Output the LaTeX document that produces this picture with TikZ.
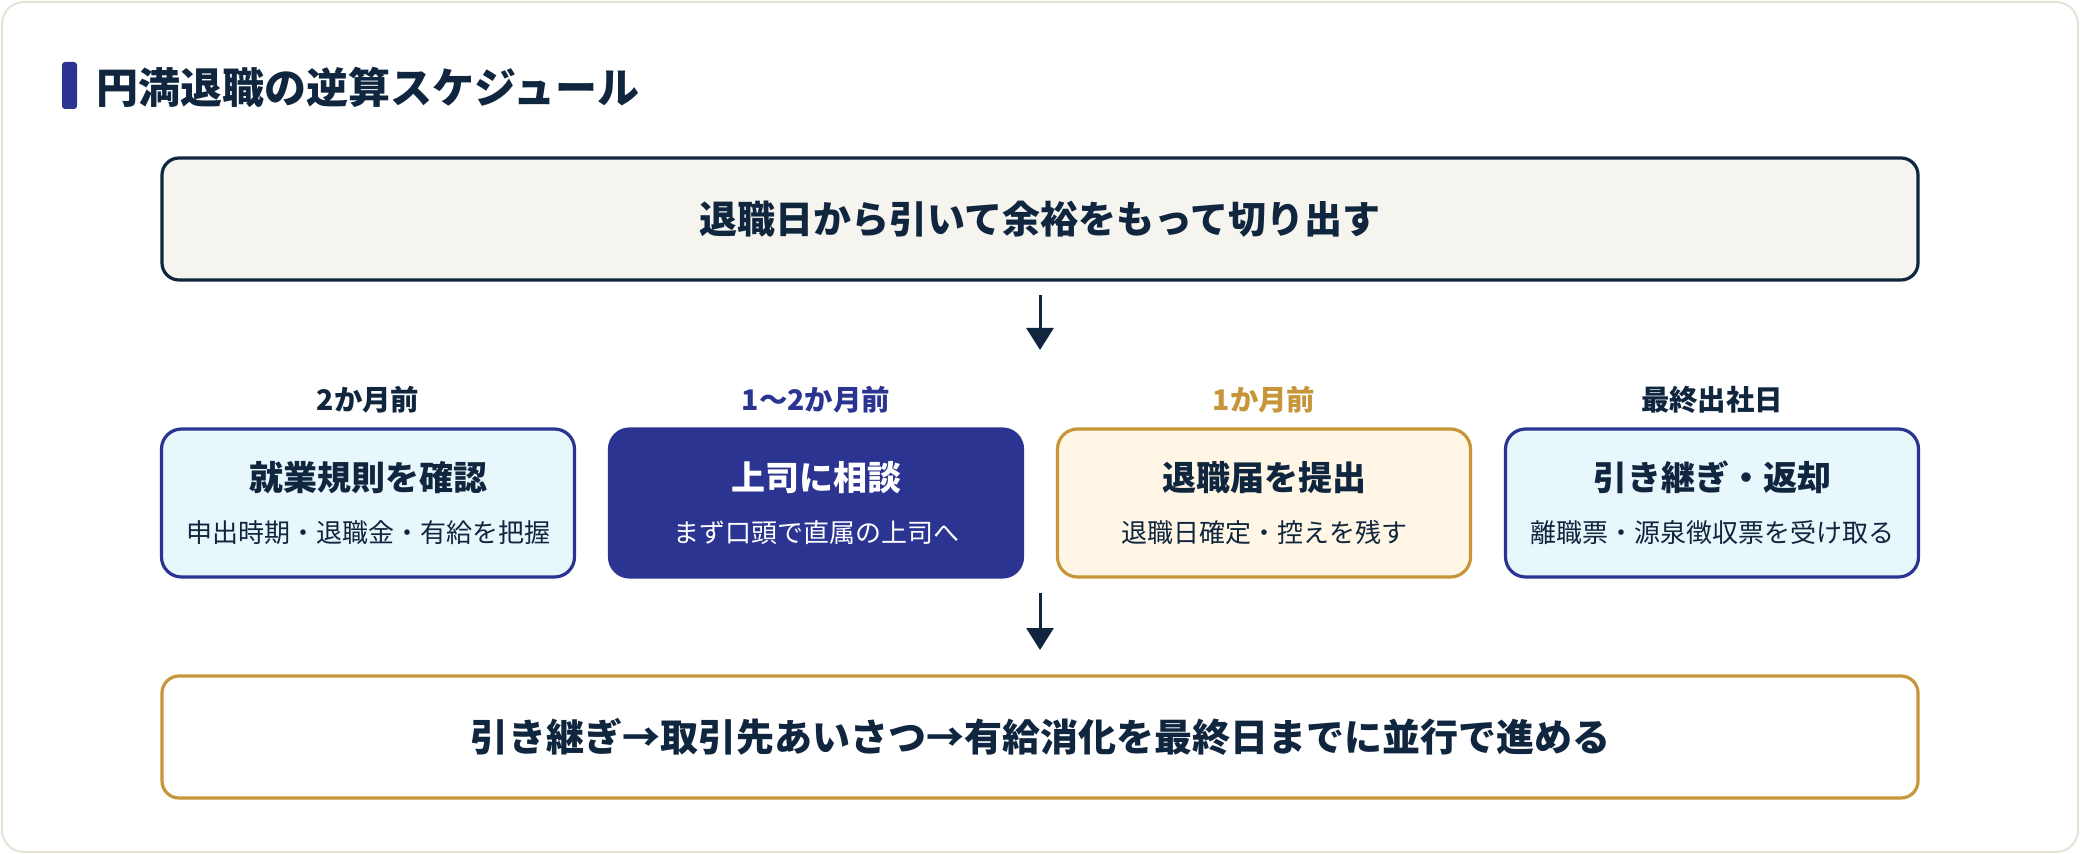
\documentclass[tikz,border=0pt]{standalone}
\usepackage{fontspec}
\setmainfont{Noto Sans CJK JP}
\usepackage{xcolor}
\usetikzlibrary{arrows.meta}

\definecolor{ink}{HTML}{10263F}
\definecolor{indigo}{HTML}{2B3491}
\definecolor{gold}{HTML}{C8963A}
\definecolor{paper}{HTML}{F5F4EF}
\definecolor{sky}{HTML}{E8F7FC}
\definecolor{cream}{HTML}{FFF6E6}
\definecolor{rim}{HTML}{E6E3D6}

\begin{document}
\begin{tikzpicture}[
  x=0.5pt, y=-0.5pt,
  banner/.style={rectangle, line width=1.6pt, rounded corners=8.5pt,
                 minimum width=878pt, minimum height=61pt, text=ink,
                 font=\fontsize{19}{22}\selectfont\bfseries},
  stage/.style={rectangle, line width=1.6pt, rounded corners=10pt,
                minimum width=206.5pt, minimum height=74pt, align=center,
                text=ink, font=\fontsize{13}{15}\selectfont},
  when/.style={font=\fontsize{14.2}{16}\selectfont\bfseries},
  edge/.style={-{Triangle[length=11pt, width=13.5pt]}, line width=1.5pt, draw=ink}
]
  \useasboundingbox (0,0) rectangle (2080,854);
  \draw[rim, line width=1pt, fill=white, rounded corners=11pt] (2,2) rectangle (2078,852);

  \fill[indigo, rounded corners=1.5pt] (62,62) rectangle (77,109);
  \node[anchor=west, text=ink, font=\fontsize{21}{25}\selectfont\bfseries] (title) at (89,87) {円満退職の逆算スケジュール};

  \node[banner, draw=ink, fill=paper] (plan) at (1040,219) {退職日から引いて余裕をもって切り出す};

  \node[when, text=ink]    (w1) at (368,400) {2か月前};
  \node[when, text=indigo] (w2) at (816,400) {1〜2か月前};
  \node[when, text=gold]   (w3) at (1264,400) {1か月前};
  \node[when, text=ink]    (w4) at (1712,400) {最終出社日};

  \node[stage, draw=indigo, fill=sky] (rules) at (368,503)
    {{\fontsize{17}{20}\selectfont\bfseries 就業規則を確認}\\[11pt]申出時期・退職金・有給を把握};
  \node[stage, draw=indigo, fill=indigo, text=white] (boss) at (816,503)
    {{\fontsize{17}{20}\selectfont\bfseries 上司に相談}\\[11pt]まず口頭で直属の上司へ};
  \node[stage, draw=gold, fill=cream] (notice) at (1264,503)
    {{\fontsize{17}{20}\selectfont\bfseries 退職届を提出}\\[11pt]退職日確定・控えを残す};
  \node[stage, draw=indigo, fill=sky] (handover) at (1712,503)
    {{\fontsize{17}{20}\selectfont\bfseries 引き継ぎ・返却}\\[11pt]離職票・源泉徴収票を受け取る};

  \node[banner, draw=gold, fill=white] (finish) at (1040,737)
    {引き継ぎ→取引先あいさつ→有給消化を最終日までに並行で進める};

  \coordinate (a1s) at (1040,295);
  \coordinate (a1e) at (1040,350);
  \coordinate (a2s) at (1040,593);
  \coordinate (a2e) at (1040,650);
  \draw[edge] (a1s) -- (a1e);
  \draw[edge] (a2s) -- (a2e);
\end{tikzpicture}
\end{document}
